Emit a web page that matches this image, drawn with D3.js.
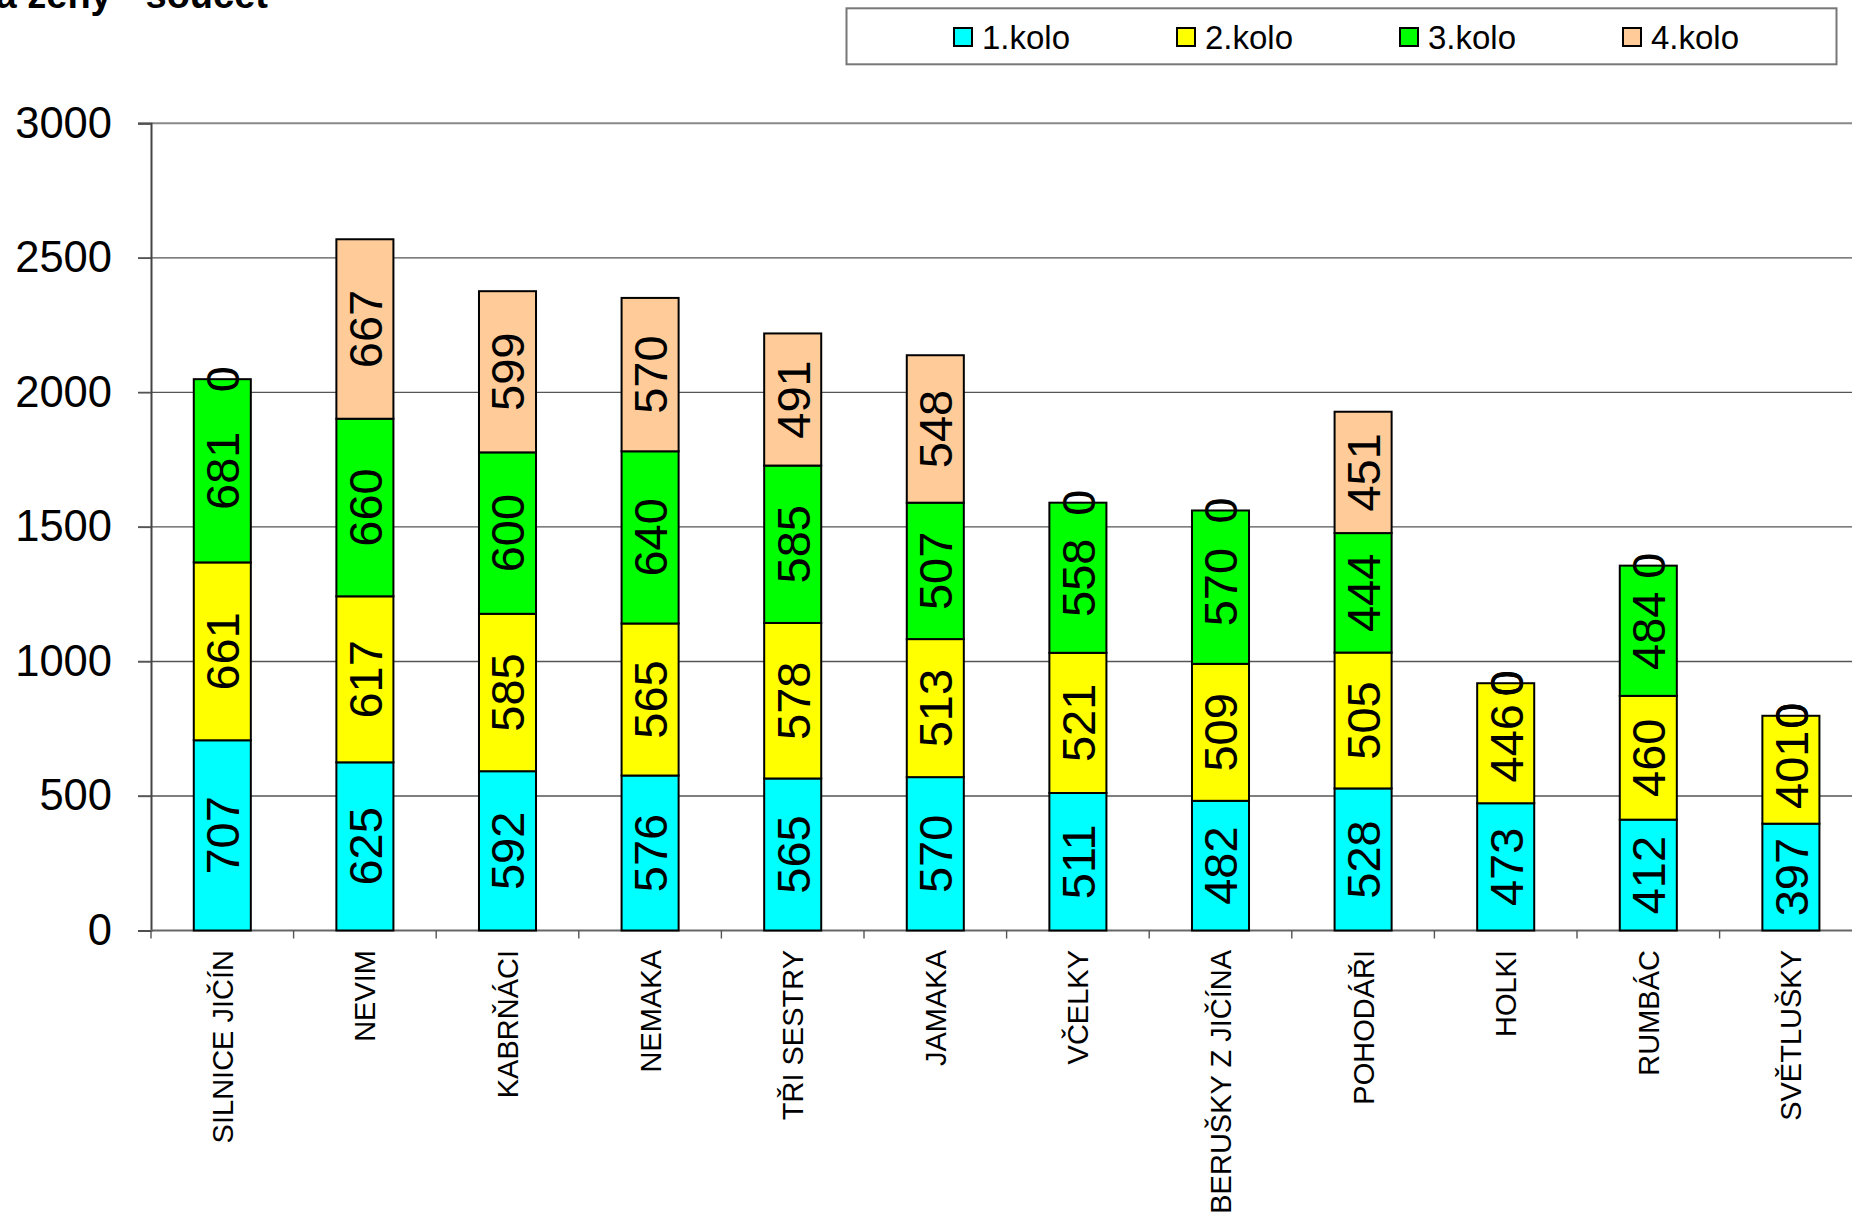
<!DOCTYPE html>
<html>
<head>
<meta charset="utf-8">
<script src="https://cdn.jsdelivr.net/npm/d3@7"></script>
<style>
html,body{margin:0;padding:0;background:#fff;}
svg{display:block;font-family:"Liberation Sans",Arial,sans-serif;}
</style>
</head>
<body>
<svg id="chart" width="1852" height="1218"></svg>
<script>
const categories = ["SILNICE JIČÍN","NEVIM","KABRŇÁCI","NEMAKA","TŘI SESTRY","JAMAKA","VČELKY","BERUŠKY Z JIČÍNA","POHODÁŘI","HOLKI","RUMBÁC","SVĚTLUŠKY"];
const seriesNames = ["1.kolo","2.kolo","3.kolo","4.kolo"];
const kolo1 = [707,625,592,576,565,570,511,482,528,473,412,397];
const kolo2 = [661,617,585,565,578,513,521,509,505,446,460,401];
const kolo3 = [681,660,600,640,585,507,558,570,444,0,484,0];
const kolo4 = [0,667,599,570,491,548,0,0,451,0,0,0];
const colors = ["#00FFFF","#FFFF00","#00FF00","#FFCC99"];
const yTicks = [0,500,1000,1500,2000,2500,3000];
const titleText = "a ženy - součet";

const svg = d3.select("#chart");
const left = 151, step = 142.6;
const x = d3.scaleBand().domain(categories)
  .range([left, left + step*categories.length])
  .paddingInner(0.6).paddingOuter(0.3);
const y = d3.scaleLinear().domain([0,3000]).range([930.5,123.3]);

// title
svg.append("text").attr("x",268).attr("y",8).attr("text-anchor","end")
  .attr("font-weight","bold").attr("font-size",38).text(titleText);

// gridlines
svg.append("g").selectAll("line").data(yTicks.filter(d=>d>0)).join("line")
  .attr("x1",138).attr("x2",1870).attr("y1",d=>y(d)).attr("y2",d=>y(d))
  .attr("stroke",d=>d===3000?"#888":"#555").attr("stroke-width",d=>d===3000?2:1.4);

// y axis
const yAxis = d3.axisLeft(y).tickValues(yTicks).tickFormat(d3.format("d")).tickSize(13).tickPadding(26);
const gy = svg.append("g").attr("transform",`translate(${left},0)`).call(yAxis);
gy.select(".domain").attr("stroke","#444").attr("stroke-width",2);
gy.selectAll(".tick line").attr("stroke","#555").attr("stroke-width",1.4);
gy.selectAll(".tick text").attr("font-size",43.5).attr("fill","#000")
  .attr("font-family","Liberation Sans, Arial, sans-serif");

// x axis line and category ticks
svg.append("line").attr("x1",left).attr("x2",1870).attr("y1",y(0)).attr("y2",y(0))
  .attr("stroke","#666").attr("stroke-width",2);
const bounds = d3.range(categories.length+1).map(i=>left + i*x.step());
svg.append("g").selectAll("line").data(bounds).join("line")
  .attr("x1",d=>d).attr("x2",d=>d).attr("y1",y(0)).attr("y2",y(0)+8)
  .attr("stroke","#555").attr("stroke-width",1.4);

// stacked data
const rows = categories.map((c,i)=>({cat:c,"1.kolo":kolo1[i],"2.kolo":kolo2[i],"3.kolo":kolo3[i],"4.kolo":kolo4[i]}));
const stack = d3.stack().keys(seriesNames)(rows);

const gBars = svg.append("g");
stack.forEach((layer,si)=>{
  gBars.append("g").selectAll("rect").data(layer.filter(d=>d[1]-d[0]>0)).join("rect")
    .attr("x",d=>x(d.data.cat)).attr("width",x.bandwidth())
    .attr("y",d=>y(d[1])).attr("height",d=>y(d[0])-y(d[1]))
    .attr("fill",colors[si]).attr("stroke","#000").attr("stroke-width",2);
});
const gLab = svg.append("g");
stack.forEach((layer,si)=>{
  gLab.append("g").selectAll("text").data(layer).join("text")
    .attr("transform",d=>`translate(${x(d.data.cat)+x.bandwidth()/2},${y((d[0]+d[1])/2)}) rotate(-90)`)
    .attr("text-anchor","middle").attr("dy","0.36em")
    .attr("font-size",47).attr("fill","#000")
    .text(d=>d[1]-d[0]);
});

// category labels
svg.append("g").selectAll("text").data(categories).join("text")
  .attr("transform",d=>`translate(${x(d)+x.bandwidth()/2},950) rotate(-90)`)
  .attr("text-anchor","end").attr("dy","0.36em")
  .attr("font-size",29).attr("fill","#000").text(d=>d);

// legend
const lg = svg.append("g");
lg.append("rect").attr("x",846.5).attr("y",8.3).attr("width",990).attr("height",56)
  .attr("fill","#fff").attr("stroke","#777").attr("stroke-width",2);
const items = lg.selectAll("g.item").data(seriesNames).join("g")
  .attr("transform",(d,i)=>`translate(${954 + i*223},0)`);
items.append("rect").attr("x",0).attr("y",28).attr("width",18).attr("height",18)
  .attr("fill",(d,i)=>colors[i]).attr("stroke","#000").attr("stroke-width",2);
items.append("text").attr("x",28).attr("y",48.5).attr("font-size",33).attr("fill","#000").text(d=>d);
</script>
</body>
</html>
